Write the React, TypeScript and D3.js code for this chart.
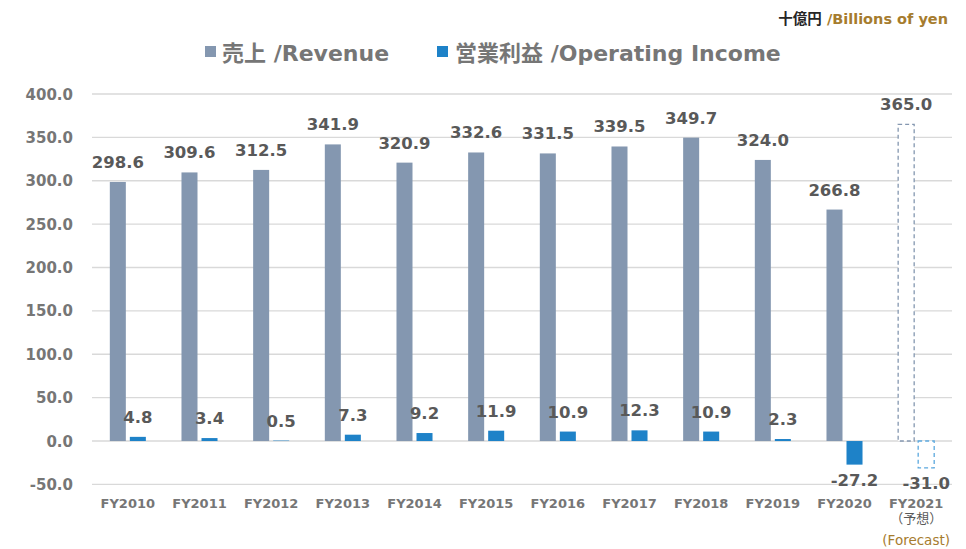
import React from "react";
import * as d3 from "d3";

// chart values (billions of yen)
const categories = ["FY2010", "FY2011", "FY2012", "FY2013", "FY2014", "FY2015", "FY2016", "FY2017", "FY2018", "FY2019", "FY2020", "FY2021"];
const revenue = [298.6, 309.6, 312.5, 341.9, 320.9, 332.6, 331.5, 339.5, 349.7, 324.0, 266.8, 365.0];
const income = [4.8, 3.4, 0.5, 7.3, 9.2, 11.9, 10.9, 12.3, 10.9, 2.3, -27.2, -31.0];
const forecastYear = "FY2021";
const yTicks = [-50, 0, 50, 100, 150, 200, 250, 300, 350, 400];
const seriesNames = ["売上 /Revenue", "営業利益 /Operating Income"];

const W = 966;
const H = 549;
const left = 92;
const right = 952;
const top = 94;
const bottom = 484.4;

const REV = "#8497B0";
const INC = "#1E82C8";
const INC_LIGHT = "#5BA8DE";
const GRID = "#D9D9D9";
const GOLD = "#A67C2E";
const FONT = "Verdana, 'DejaVu Sans', 'Noto Sans CJK JP', sans-serif";

// plain hyphen for negatives, like the original
const fmt = (v: number) => v.toFixed(1);

export default function App() {
  const x0 = d3.scaleBand().domain(categories).range([left, right]).paddingInner(0).paddingOuter(0);
  const x1 = d3.scaleBand().domain(["rev", "inc"]).range([0, x0.bandwidth()]).paddingInner(0.2).paddingOuter(0.89);
  const y = d3.scaleLinear().domain([-50, 400]).range([bottom, top]);
  const bw = x1.bandwidth();

  const label = (v: number, cx: number) => {
    const yy = v >= 0 ? y(v) - 14 : y(v) + 21;
    return (
      <text x={cx} y={yy} textAnchor="middle" fontSize={16.5} fontWeight="bold" fill="#595959">
        {fmt(v)}
      </text>
    );
  };

  return (
    <svg width={W} height={H} style={{ position: "absolute", left: 0, top: 0, background: "#fff" }} fontFamily={FONT}>
      {/* unit */}
      <text x={948} y={24} textAnchor="end" fontSize={14.5} fontWeight="bold">
        <tspan fill="#262626">十億円 </tspan>
        <tspan fill={GOLD}>/Billions of yen</tspan>
      </text>

      {/* legend */}
      <rect x={205} y={46} width={11} height={11} fill={REV} />
      <text x={222} y={61} fontSize={22} fontWeight="bold" fill="#767676">{seriesNames[0]}</text>
      <rect x={437} y={46} width={11} height={11} fill={INC} />
      <text x={455} y={61} fontSize={22} fontWeight="bold" fill="#767676">{seriesNames[1]}</text>

      {/* grid + y ticks */}
      {yTicks.map((t) => (
        <g key={t}>
          <line x1={left} x2={right} y1={y(t)} y2={y(t)} stroke={GRID} strokeWidth={1.3} />
          <text x={73} y={y(t) + 5.5} textAnchor="end" fontSize={15} fontWeight="bold" fill="#767676">
            {fmt(t)}
          </text>
        </g>
      ))}

      {/* bars */}
      {categories.map((c, i) => {
        const gx = x0(c)!;
        const rx = gx + x1("rev")!;
        const ix = gx + x1("inc")!;
        const fc = c === forecastYear;
        const r = revenue[i];
        const n = income[i];
        const iy = Math.min(y(n), y(0));
        const ih = Math.abs(y(n) - y(0));
        const cx = gx + x0.bandwidth() / 2;
        return (
          <g key={c}>
            {fc ? (
              <>
                <rect x={rx} y={y(r)} width={bw} height={y(0) - y(r)} fill="#fff" stroke={REV} strokeWidth={1.3} strokeDasharray="4,3" />
                <rect x={ix} y={iy} width={bw} height={ih} fill="#fff" stroke={INC_LIGHT} strokeWidth={1.3} strokeDasharray="4,3" />
              </>
            ) : (
              <>
                <rect x={rx} y={y(r)} width={bw} height={y(0) - y(r)} fill={REV} />
                <rect x={ix} y={iy} width={bw} height={ih} fill={INC} />
              </>
            )}
            {label(r, rx + bw / 2)}
            {label(n, ix + bw / 2)}
            <text x={cx} y={508} textAnchor="middle" fontSize={13} fontWeight="bold" fill="#767676">
              {c}
            </text>
            {fc && (
              <>
                <text x={cx} y={523} textAnchor="middle" fontSize={13} fill="#595959">（予想）</text>
                <text x={cx} y={545} textAnchor="middle" fontSize={13.5} fill={GOLD}>(Forecast)</text>
              </>
            )}
          </g>
        );
      })}
    </svg>
  );
}
